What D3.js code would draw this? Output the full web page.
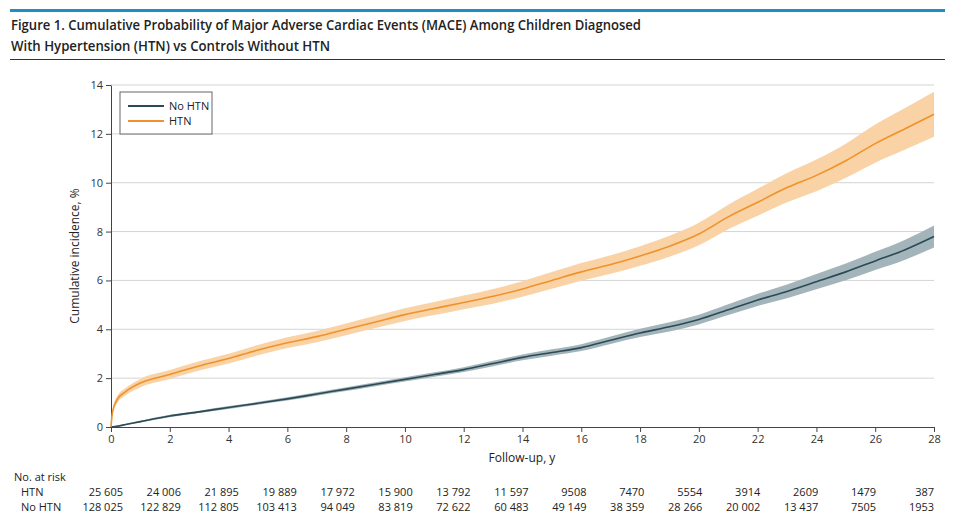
<!DOCTYPE html>
<html><head><meta charset="utf-8">
<script src="https://cdn.jsdelivr.net/npm/d3@7"></script>
<style>body{margin:0;background:#fff;font-family:"Open Sans",sans-serif;}</style>
</head><body><svg width="963" height="525"></svg>
<script>
const years = [0, 0.05, 0.2, 0.5, 1, 2, 3, 4, 5, 6, 7, 8, 9, 10, 11, 12, 13, 14, 15, 16, 17, 18, 19, 20, 21, 22, 23, 24, 25, 26, 27, 28];
const htn = [0, 0.6, 1.1, 1.45, 1.8, 2.15, 2.5, 2.8, 3.15, 3.45, 3.7, 4.0, 4.3, 4.6, 4.85, 5.1, 5.35, 5.65, 6.0, 6.35, 6.65, 7.0, 7.4, 7.9, 8.6, 9.2, 9.8, 10.3, 10.9, 11.6, 12.2, 12.8];
const htnHalf = [0, 0.1, 0.15, 0.15, 0.17, 0.18, 0.19, 0.2, 0.21, 0.22, 0.23, 0.24, 0.25, 0.26, 0.27, 0.28, 0.3, 0.32, 0.34, 0.36, 0.38, 0.4, 0.43, 0.46, 0.5, 0.55, 0.6, 0.65, 0.7, 0.78, 0.85, 0.92];
const noHtn = [0, 0.01, 0.03, 0.1, 0.22, 0.45, 0.62, 0.8, 0.97, 1.15, 1.35, 1.55, 1.75, 1.95, 2.15, 2.35, 2.6, 2.85, 3.05, 3.25, 3.55, 3.85, 4.1, 4.4, 4.8, 5.2, 5.55, 5.95, 6.35, 6.8, 7.25, 7.8];
const noHtnHalf = [0, 0.01, 0.02, 0.03, 0.04, 0.05, 0.05, 0.06, 0.06, 0.07, 0.07, 0.08, 0.08, 0.09, 0.09, 0.1, 0.11, 0.12, 0.13, 0.14, 0.15, 0.17, 0.19, 0.2, 0.22, 0.25, 0.28, 0.31, 0.34, 0.37, 0.41, 0.45];
const riskYears = [0, 2, 4, 6, 8, 10, 12, 14, 16, 18, 20, 22, 24, 26, 28];
const riskHtn = ["25 605", "24 006", "21 895", "19 889", "17 972", "15 900", "13 792", "11 597", "9508", "7470", "5554", "3914", "2609", "1479", "387"];
const riskNoHtn = ["128 025", "122 829", "112 805", "103 413", "94 049", "83 819", "72 622", "60 483", "49 149", "38 359", "28 266", "20 002", "13 437", "7505", "1953"];

const svg = d3.select("svg");
const x = d3.scaleLinear().domain([0, 28]).range([111, 934]);
const y = d3.scaleLinear().domain([0, 14]).range([427, 85]);

svg.append("rect").attr("x", 10).attr("y", 9).attr("width", 935).attr("height", 3).attr("fill", "#1d8fc0");
svg.append("text").attr("x", 11).attr("y", 30).attr("font-size", 15).attr("font-weight", 600).attr("fill", "#222")
  .attr("textLength", 630).attr("lengthAdjust", "spacingAndGlyphs")
  .text("Figure 1. Cumulative Probability of Major Adverse Cardiac Events (MACE) Among Children Diagnosed");
svg.append("text").attr("x", 11).attr("y", 51).attr("font-size", 15).attr("font-weight", 600).attr("fill", "#222")
  .attr("textLength", 319).attr("lengthAdjust", "spacingAndGlyphs")
  .text("With Hypertension (HTN) vs Controls Without HTN");
svg.append("line").attr("x1", 10).attr("x2", 945).attr("y1", 59.5).attr("y2", 59.5).attr("stroke", "#333");

svg.append("g").selectAll("line").data(d3.range(2, 15, 2)).join("line")
  .attr("x1", 111).attr("x2", 934).attr("y1", d => y(d)).attr("y2", d => y(d))
  .attr("stroke", "#d4d4d4");

const yAxis = svg.append("g").attr("transform", "translate(111,0)")
  .call(d3.axisLeft(y).tickValues(d3.range(0, 15, 2)).tickSize(5).tickSizeOuter(0));
const xAxis = svg.append("g").attr("transform", "translate(0,427)")
  .call(d3.axisBottom(x).tickValues(riskYears).tickSize(5).tickSizeOuter(0));
[yAxis, xAxis].forEach(a => {
  a.selectAll("text").attr("font-size", 11).attr("fill", "#333").attr("font-family", "Open Sans");
  a.selectAll("line,path").attr("stroke", "#444");
});

svg.append("text").attr("transform", "translate(79,256) rotate(-90)").attr("text-anchor", "middle")
  .attr("font-size", 12).attr("fill", "#222").text("Cumulative incidence, %");
svg.append("text").attr("x", 522).attr("y", 462).attr("text-anchor", "middle")
  .attr("font-size", 12).attr("fill", "#222").text("Follow-up, y");

const series = [
  { vals: noHtn, half: noHtnHalf, line: "#2b4a55", band: "#a3b5ba" },
  { vals: htn, half: htnHalf, line: "#f0922a", band: "#f9d2a6" }
];
const area = d3.area().curve(d3.curveMonotoneX);
const line = d3.line().curve(d3.curveMonotoneX);
series.forEach(s => {
  const pts = years.map((t, i) => ({ t, v: s.vals[i], h: s.half[i] }));
  svg.append("path").attr("fill", s.band)
    .attr("d", area.x(d => x(d.t)).y0(d => y(Math.max(0, d.v - d.h))).y1(d => y(d.v + d.h))(pts));
  svg.append("path").attr("fill", "none").attr("stroke", s.line).attr("stroke-width", 1.6)
    .attr("d", line.x(d => x(d.t)).y(d => y(d.v))(pts));
});

const lg = svg.append("g");
lg.append("rect").attr("x", 120).attr("y", 92).attr("width", 92).attr("height", 42)
  .attr("fill", "#fff").attr("stroke", "#666");
[["No HTN", "#2b4a55"], ["HTN", "#f0922a"]].forEach((d, i) => {
  lg.append("line").attr("x1", 128).attr("x2", 164).attr("y1", 106 + i * 15).attr("y2", 106 + i * 15)
    .attr("stroke", d[1]).attr("stroke-width", 2);
  lg.append("text").attr("x", 169).attr("y", 110 + i * 15).attr("font-size", 11).attr("fill", "#222").text(d[0]);
});

svg.append("text").attr("x", 14).attr("y", 481).attr("font-size", 11).attr("fill", "#222").text("No. at risk");
svg.append("text").attr("x", 21).attr("y", 496).attr("font-size", 11).attr("fill", "#222").text("HTN");
svg.append("text").attr("x", 21).attr("y", 511).attr("font-size", 11).attr("fill", "#222").text("No HTN");
[[riskHtn, 496], [riskNoHtn, 511]].forEach(([arr, yy]) => {
  svg.append("g").selectAll("text").data(arr).join("text")
    .attr("x", (d, i) => x(riskYears[i]) + 12 - i * 0.85).attr("y", yy)
    .attr("text-anchor", "end").attr("font-size", 11).attr("fill", "#222").text(d => d);
});
</script></body></html>
